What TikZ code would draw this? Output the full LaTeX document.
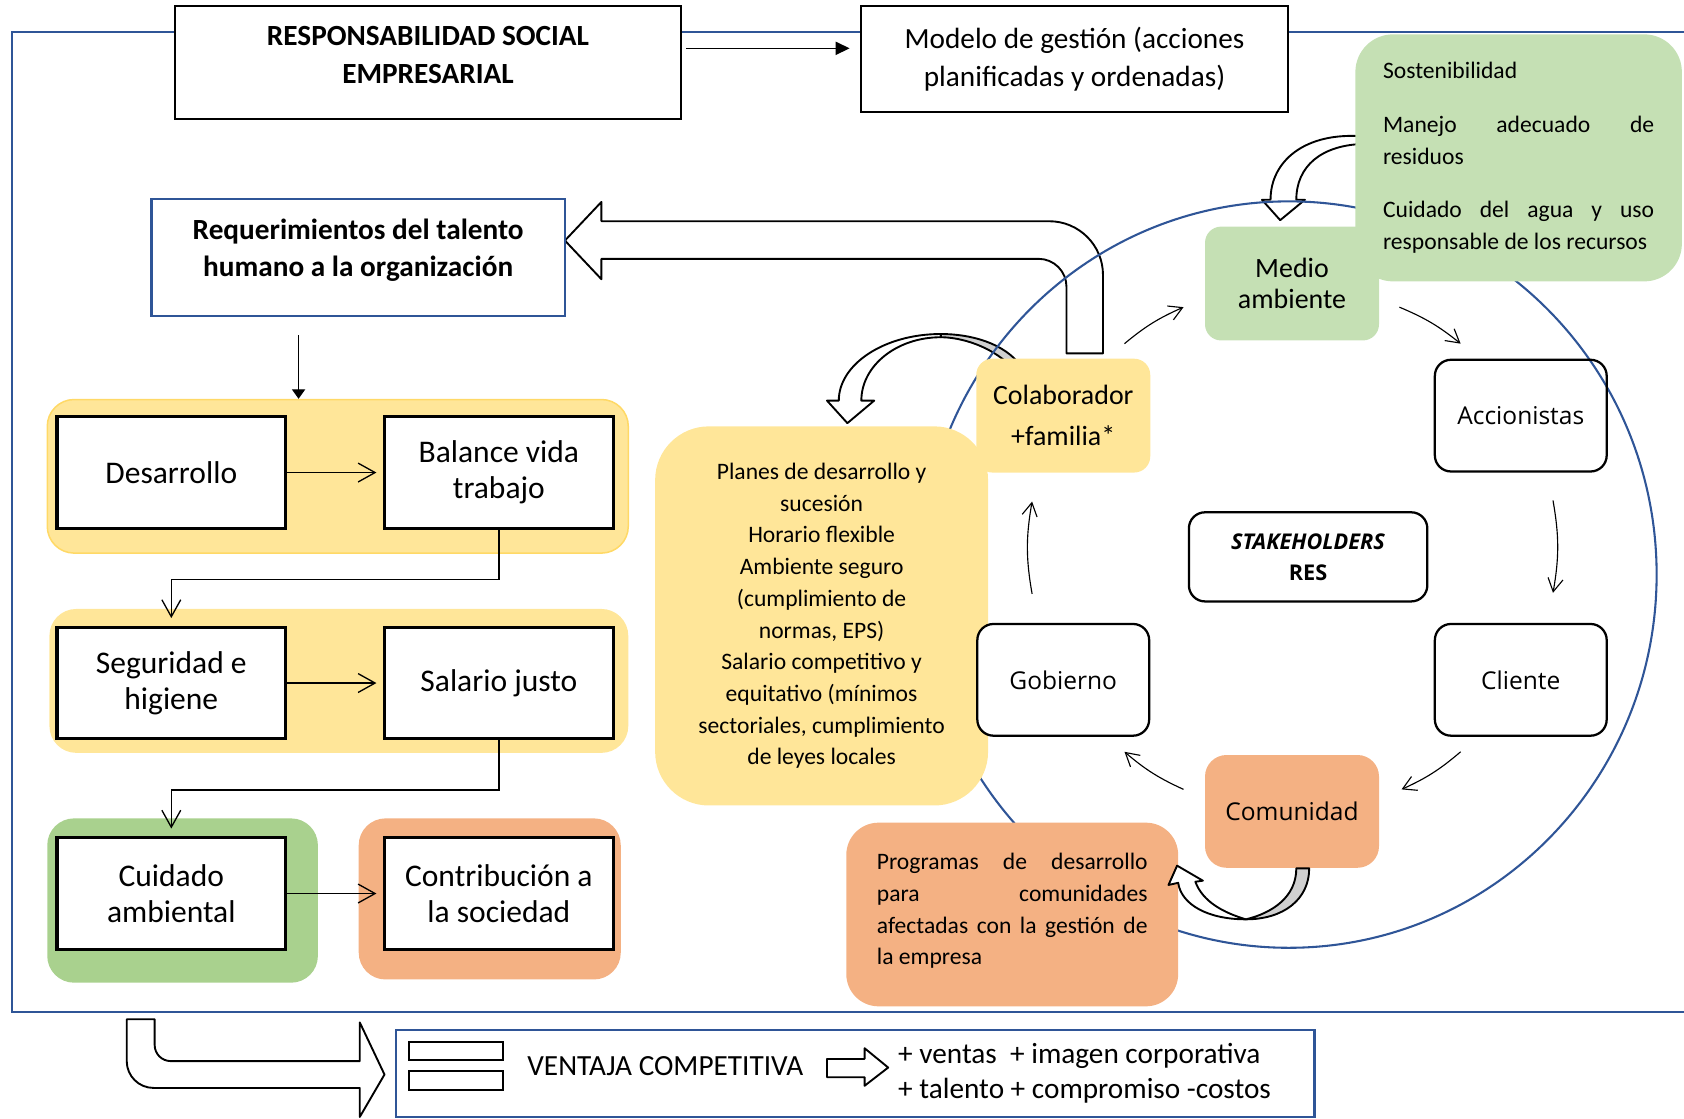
\documentclass[tikz,border=0pt]{standalone}
\usepackage{fontspec}
\setmainfont{Carlito}
\newfontfamily\holderfont{Open Sans}
\usepackage{xcolor}
\usepackage{tikz}
\usetikzlibrary{positioning,arrows.meta,calc,shapes}
\definecolor{frameblue}{HTML}{2F5597}
\definecolor{sunyellow}{HTML}{FFE699}
\definecolor{sunedge}{HTML}{FFD966}
\definecolor{leafgreen}{HTML}{C5E0B4}
\definecolor{grassgreen}{HTML}{A9D18E}
\definecolor{peach}{HTML}{F4B183}
\definecolor{twistgray}{HTML}{D0D0D0}
\tikzset{
    titlebox/.style={rectangle, draw, line width=1pt, fill=white, align=center, font=\fontsize{15.5}{20}\selectfont},
    talentbox/.style={rectangle, draw=frameblue, line width=1.2pt, fill=white, align=center, font=\fontsize{15.5}{20}\selectfont\bfseries},
    tray/.style={rectangle, rounded corners=0.5cm},
    stepbox/.style={rectangle, draw, line width=1.7pt, fill=white, minimum width=4.26cm, minimum height=2.08cm, align=center, font=\fontsize{16.7}{19}\selectfont},
    holder/.style={rectangle, rounded corners=0.3cm, minimum width=3.24cm, minimum height=2.12cm, align=center, font=\fontsize{14.8}{22}\selectfont},
    plainholder/.style={holder, draw, line width=1.2pt, minimum width=3.2cm, minimum height=2.08cm, font=\holderfont\fontsize{13}{17}\selectfont},
    softnote/.style={rectangle, font={\fontsize{12.5}{16.8}\selectfont\tolerance=10000\hyphenpenalty=10000}},
    blockarrow/.style={draw, line width=1pt, fill=white, line join=round},
    steparrow/.style={-{Straight Barb[length=9pt,width=10pt]}, line width=0.7pt, shorten >=0.12cm},
    ringarrow/.style={-{Straight Barb[length=7pt,width=8pt]}, line width=0.6pt}
}

\begin{document}
\begin{tikzpicture}
\useasboundingbox (0,0) rectangle (31.36,-20.82);

% Outer frame
\draw[frameblue, line width=1.1pt] (31.36,-0.60) -- (0.22,-0.60) -- (0.22,-18.84) -- (31.36,-18.84);

% Block arrows
\draw[blockarrow] (20.54,-6.58) -- (20.54,-5.12) arc[start angle=0, end angle=90, radius=1.0] -- (11.20,-4.12) -- (11.20,-3.76) -- (10.52,-4.48) -- (11.20,-5.20) -- (11.20,-4.82) -- (19.34,-4.82) arc[start angle=90, end angle=0, radius=0.52] -- (19.86,-6.58) -- cycle;
\draw[blockarrow] (17.52,-6.22) .. controls (16.47,-6.22) and (15.62,-6.78) .. (15.62,-7.46) -- (15.40,-7.46) -- (15.78,-7.88) -- (16.28,-7.46) -- (16.04,-7.46) .. controls (16.04,-6.81) and (16.70,-6.28) .. (17.52,-6.28) -- cycle;
\draw[blockarrow, fill=twistgray] (17.52,-6.22) .. controls (18.10,-6.22) and (18.70,-6.40) .. (19.00,-6.80) -- (18.80,-6.80) .. controls (18.45,-6.45) and (17.90,-6.28) .. (17.52,-6.28) -- cycle;
\draw[blockarrow] (25.40,-2.54) .. controls (24.30,-2.45) and (23.66,-3.00) .. (23.66,-3.72) -- (23.50,-3.72) -- (23.84,-4.10) -- (24.30,-3.72) -- (24.14,-3.72) .. controls (24.14,-3.10) and (24.60,-2.70) .. (25.40,-2.68) -- cycle;

% Stakeholder circle
\draw[frameblue, line width=1.1pt] (24.0,-10.70) ellipse [x radius=6.85cm, y radius=6.95cm];

% Header
\node[titlebox, font=\fontsize{15.5}{20}\selectfont\bfseries, minimum width=9.42cm, minimum height=2.10cm] (rse) at (7.97,-1.17) {RESPONSABILIDAD SOCIAL\\EMPRESARIAL\\[-12pt]\mbox{}};
\node[titlebox, minimum width=7.94cm, minimum height=1.96cm] (modelo) at (20.01,-1.10) {Modelo de gestión (acciones\\planificadas y ordenadas)};
\coordinate (rseout) at ([shift={(0.08,0.27)}]rse.east);
\draw[-{Triangle[length=7.5pt,width=7pt]}, line width=0.8pt, shorten >=0.2cm] (rseout) -- (rseout -| modelo.west);

% Talent requirements
\node[talentbox, minimum width=7.70cm, minimum height=2.18cm] (req) at (6.67,-4.79) {Requerimientos del talento\\humano a la organización\\[-10pt]\mbox{}};

% Left column groups
\node[tray, fill=sunyellow, draw=sunedge, line width=0.8pt, minimum width=10.82cm, minimum height=2.86cm] (tray1) at (6.29,-8.87) {};
\node[tray, fill=sunyellow, minimum width=10.78cm, minimum height=2.68cm] (tray2) at (6.31,-12.68) {};
\node[tray, fill=grassgreen, minimum width=5.04cm, minimum height=3.06cm] (tray3) at (3.40,-16.77) {};
\node[tray, fill=peach, minimum width=4.88cm, minimum height=3.00cm] (tray4) at (9.12,-16.74) {};

\coordinate (reqout) at ([shift={(-1.11,-0.34)}]req.south);
\draw[-{Triangle[length=5pt,width=7pt]}, line width=0.6pt] (reqout) -- (reqout |- tray1.north);

\node[stepbox] (desarrollo) at (3.19,-8.80) {Desarrollo};
\node[stepbox, right=1.78cm of desarrollo] (balance) {Balance vida\\trabajo};
\node[stepbox, below=1.78cm of desarrollo] (seguridad) {Seguridad e\\higiene};
\node[stepbox, right=1.78cm of seguridad] (salario) {Salario justo};
\node[stepbox, below=1.78cm of seguridad] (cuidado) {Cuidado\\ambiental};
\node[stepbox, right=1.78cm of cuidado] (contribucion) {Contribución a\\la sociedad};

\draw[steparrow] (desarrollo) -- (balance);
\draw[steparrow] (seguridad) -- (salario);
\draw[steparrow] (cuidado) -- (contribucion);
\draw[steparrow, shorten >=0.14cm] (balance.south) -- ++(0,-0.92) -| (seguridad.north);
\draw[steparrow, shorten >=0.14cm] (salario.south) -- ++(0,-0.92) -| (cuidado.north);

% Benefits for the collaborator
\node[softnote, fill=sunyellow, rounded corners=1cm, minimum width=6.2cm, minimum height=7.06cm, align=center] (planes) at (15.30,-11.47) {Planes de desarrollo y\\sucesión\\Horario flexible\\Ambiente seguro\\(cumplimiento de\\normas, EPS)\\Salario competitivo y\\equitativo (mínimos\\sectoriales, cumplimiento\\de leyes locales};

% Stakeholders
\node[holder, fill=leafgreen, font=\fontsize{14.8}{16.5}\selectfont] (medio) at (24.06,-5.28) {Medio\\ambiente};
\node[softnote, fill=leafgreen, rounded corners=0.7cm, minimum width=6.08cm, minimum height=4.6cm, text width=5.05cm, align=justify] (sosten) at (28.28,-2.94) {Sostenibilidad\\[11.7pt]Manejo adecuado de\linebreak residuos\\[11.7pt]Cuidado del agua y uso\linebreak responsable de los recursos};
\node[holder, fill=sunyellow] (colab) at (19.80,-7.74) {Colaborador\\+familia*};
\node[plainholder] (accionistas) at (28.32,-7.74) {Accionistas};
\node[plainholder, fill=white] (cliente) at (28.32,-12.66) {Cliente};
\node[plainholder, fill=white] (gobierno) at (19.80,-12.66) {Gobierno};
\node[holder, fill=peach, rounded corners=0.4cm, minimum height=2.10cm, font=\holderfont\fontsize{13}{17}\selectfont] (comunidad) at (24.06,-15.11) {Comunidad};
\node[plainholder, minimum width=4.44cm, minimum height=1.66cm, font=\holderfont\fontsize{11.5}{16.5}\selectfont\bfseries] (stake) at (24.36,-10.37) {\textit{STAKEHOLDERS}\\RES};
\node[softnote, fill=peach, rounded corners=0.6cm, minimum width=6.18cm, minimum height=3.42cm, text width=5.04cm, align=justify] (programas) at (18.85,-17.03) {Programas de desarrollo\linebreak para comunidades\linebreak afectadas con la gestión de\linebreak la empresa\\[-11pt]\mbox{}};

% Community arrow over the programmes box
\draw[blockarrow, fill=twistgray] (24.38,-16.17) .. controls (24.38,-16.75) and (23.90,-17.12) .. (23.20,-17.12) .. controls (23.70,-17.00) and (24.14,-16.70) .. (24.14,-16.17) -- cycle;
\draw[blockarrow] (23.20,-17.12) .. controls (22.50,-17.12) and (22.00,-16.85) .. (21.94,-16.44) -- (21.76,-16.48) -- (21.92,-16.12) -- (22.40,-16.40) -- (22.26,-16.42) .. controls (22.40,-16.80) and (22.80,-17.00) .. (23.20,-17.12) -- cycle;

% Ring of thin arrows
\coordinate (r1a) at (20.94,-6.40); \coordinate (r1b) at (22.04,-5.72);
\coordinate (r2a) at (26.06,-5.72); \coordinate (r2b) at (27.20,-6.40);
\coordinate (r3a) at (28.92,-9.32); \coordinate (r3b) at (28.92,-11.04);
\coordinate (r4a) at (27.20,-14.00); \coordinate (r4b) at (26.10,-14.70);
\coordinate (r5a) at (22.04,-14.70); \coordinate (r5b) at (20.94,-14.00);
\coordinate (r6a) at (19.22,-11.06); \coordinate (r6b) at (19.22,-9.34);
\draw[ringarrow] (r1a) to[bend left=8] (r1b);
\draw[ringarrow] (r2a) to[bend left=8] (r2b);
\draw[ringarrow] (r3a) to[bend left=10] (r3b);
\draw[ringarrow] (r4a) to[bend left=8] (r4b);
\draw[ringarrow] (r5a) to[bend left=8] (r5b);
\draw[ringarrow] (r6a) to[bend left=10] (r6b);

% Competitive advantage
\draw[blockarrow] (2.36,-18.98) -- (2.36,-19.76) arc[start angle=180, end angle=270, radius=0.5] -- (6.70,-20.26) -- (6.70,-20.80) -- (7.16,-20.01) -- (6.70,-19.04) -- (6.70,-19.76) -- (3.18,-19.76) arc[start angle=270, end angle=180, radius=0.3] -- (2.88,-18.98) -- cycle;
\node[draw=frameblue, line width=1.2pt, minimum width=17.10cm, minimum height=1.62cm] (ventaja) at (15.93,-19.99) {};
\node[draw, line width=1pt, fill=white, inner sep=0pt, minimum width=1.74cm, minimum height=0.34cm] (eqtop) at (8.49,-19.57) {};
\node[draw, line width=1pt, fill=white, inner sep=0pt, minimum width=1.74cm, minimum height=0.36cm] (eqbot) at (8.49,-20.12) {};
\node[font=\fontsize{15.5}{19}\selectfont] (ventajalabel) at (12.39,-19.86) {VENTAJA COMPETITIVA};
\draw[blockarrow] (15.40,-19.72) -- (16.10,-19.72) -- (16.10,-19.52) -- (16.54,-19.88) -- (16.10,-20.22) -- (16.10,-20.06) -- (15.40,-20.06) -- cycle;
\node[anchor=west, align=left, inner sep=0pt, font=\fontsize{15.5}{18.8}\selectfont] (gains) at (16.72,-19.99) {+ ventas~~+ imagen corporativa\\+ talento + compromiso -costos};

\end{tikzpicture}
\end{document}
